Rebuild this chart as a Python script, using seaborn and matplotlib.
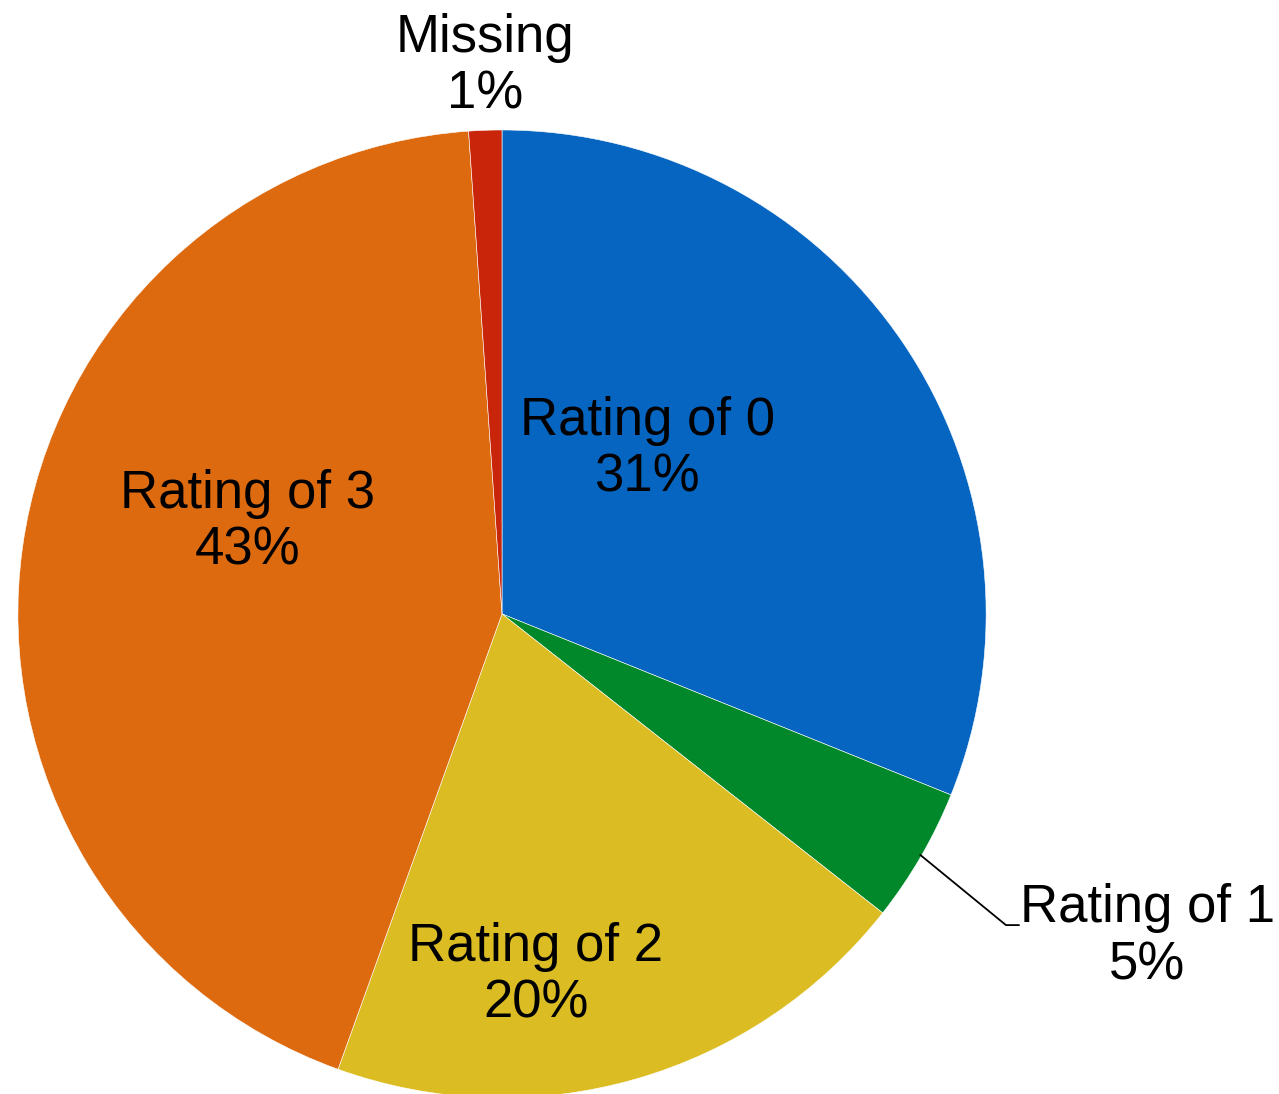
import seaborn as sns
import matplotlib.pyplot as plt
import numpy as np

# slices go clockwise from 12 o'clock
labels = ['Rating of 0', 'Rating of 1', 'Rating of 2', 'Rating of 3', 'Missing']
shares = [31.1, 4.5, 19.9, 43.4, 1.1]
pct_text = ['31%', '5%', '20%', '43%', '1%']
colors = ['#0565C0', '#00882B', '#DBBD23', '#DD6A0F', '#C8250A']

sns.set_theme(style='white')
plt.rcParams['font.family'] = ['Liberation Sans', 'DejaVu Sans']
pal = sns.color_palette(colors)

fig = plt.figure(figsize=(12.79, 10.94), dpi=100)
ax = fig.add_axes([0, 0, 1, 1])
ax.pie(shares, colors=pal, startangle=90, counterclock=False, radius=1,
       wedgeprops=dict(edgecolor='white', linewidth=0.4))
ax.set_xlim(-1.037, 1.605)
ax.set_ylim(-0.992, 1.2686)
ax.set_aspect('auto')
ax.axis('off')

# label spots (in pie radii), picked by eye
spots = [(0.30, 0.341), (1.333, -0.667), (0.07, -0.746), (-0.525, 0.19), (-0.035, 1.132)]
for lab, pct, (x, y) in zip(labels, pct_text, spots):
    ax.text(x, y, lab + '\n' + pct, ha='center', va='center', fontsize=38,
            color='black', linespacing=1.17)

# leader line for the small green slice
ax.plot([0.864, 1.041, 1.068], [-0.498, -0.643, -0.643], color='black', lw=1.3)

fig.savefig('out.png', dpi=100, facecolor='white')
